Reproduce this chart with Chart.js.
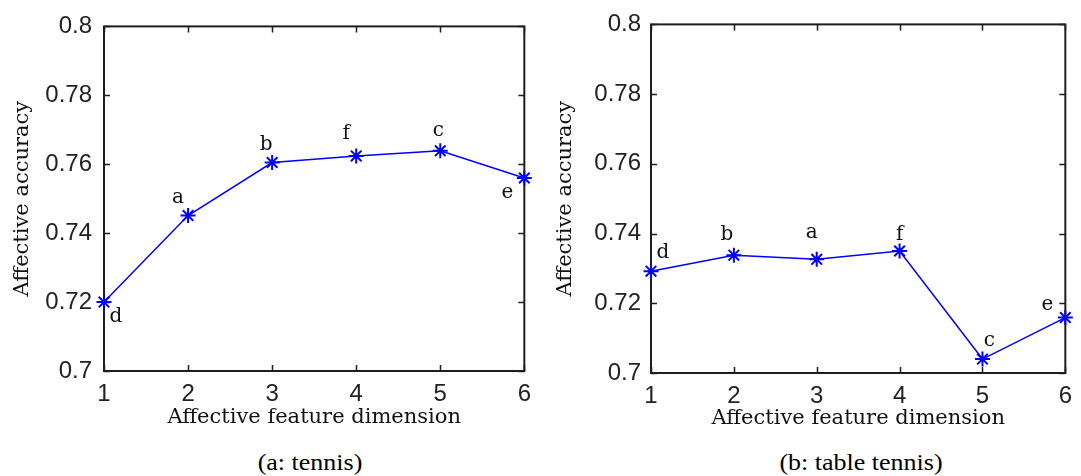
<!DOCTYPE html>
<html>
<head>
<meta charset="utf-8">
<script src="https://cdn.jsdelivr.net/npm/chart.js@4.4.0/dist/chart.umd.min.js"></script>
<style>
  html, body { margin: 0; padding: 0; background: #fff; }
  #wrap { position: relative; width: 1081px; height: 476px; overflow: hidden; background: #fff; }
  .panel { position: absolute; top: 0; }
  .caption {
    position: absolute; top: 449px; line-height: 27px;
    font-family: 'Liberation Serif', 'Times New Roman', serif; font-size: 23px; color: #000;
    transform: translateX(-50%) scaleX(1.13); white-space: nowrap;
  }
</style>
</head>
<body>
<div id="wrap">
  <canvas id="tennis" class="panel" style="left:0px"></canvas>
  <canvas id="tabletennis" class="panel" style="left:540px"></canvas>
  <div class="caption" style="left:310px">(a: tennis)</div>
  <div class="caption" style="left:861px">(b: table tennis)</div>
</div>
<script>
// feature dimension on the x axis
var dims = [1, 2, 3, 4, 5, 6];

// (a) tennis
var tennisAcc = [0.7200, 0.7451, 0.7605, 0.7624, 0.7639, 0.7560];
var tennisTags = ['d', 'a', 'b', 'f', 'c', 'e'];

// (b) table tennis
var tableTennisAcc = [0.7292, 0.7338, 0.7326, 0.7350, 0.7040, 0.7159];
var tableTennisTags = ['d', 'b', 'a', 'f', 'c', 'e'];

var yTickValues = [0.7, 0.72, 0.74, 0.76, 0.78, 0.8];
var xTitle = 'Affective feature dimension';
var yTitle = 'Affective accuracy';

var CANVAS_H = 440;

// box with inward tick marks, matlab style
var framePlugin = {
  id: 'frame',
  beforeDatasetsDraw: function(chart) {
    var a = chart.chartArea, ctx = chart.ctx;
    var xs = chart.scales.x, ys = chart.scales.y;
    var len = 6;
    ctx.save();
    ctx.strokeStyle = '#1e1e1e';
    ctx.lineWidth = 1.5;
    ctx.beginPath();
    xs.ticks.forEach(function(t) {
      var px = Math.round(xs.getPixelForValue(t.value)) + 0.5;
      ctx.moveTo(px, a.bottom); ctx.lineTo(px, a.bottom - len);
      ctx.moveTo(px, a.top); ctx.lineTo(px, a.top + len);
    });
    ys.ticks.forEach(function(t) {
      var py = Math.round(ys.getPixelForValue(t.value)) + 0.5;
      ctx.moveTo(a.left, py); ctx.lineTo(a.left + len, py);
      ctx.moveTo(a.right, py); ctx.lineTo(a.right - len, py);
    });
    ctx.stroke();
    ctx.lineWidth = 2;
    ctx.strokeRect(a.left, a.top, a.right - a.left, a.bottom - a.top);
    ctx.restore();
  }
};

// letter next to each point
var tagPlugin = {
  id: 'tags',
  afterDatasetsDraw: function(chart, args, opts) {
    var pts = chart.getDatasetMeta(0).data;
    var ctx = chart.ctx;
    ctx.save();
    ctx.font = '20px "DejaVu Serif", serif';
    ctx.fillStyle = '#111';
    ctx.textAlign = 'center';
    ctx.textBaseline = 'alphabetic';
    for (var i = 0; i < pts.length; i++) {
      var off = opts.offsets[i];
      ctx.fillText(opts.tags[i], pts[i].x + off[0], pts[i].y + off[1]);
    }
    ctx.restore();
  }
};

function makeChart(id, width, values, tags, g) {
  var canvas = document.getElementById(id);
  canvas.width = width; canvas.height = CANVAS_H;
  canvas.style.width = width + 'px'; canvas.style.height = CANVAS_H + 'px';

  var points = dims.map(function(d, i) { return { x: d, y: values[i] }; });
  var tickFont = { family: '"Liberation Sans", Arial, sans-serif', size: 24 };
  var titleFont = { family: '"DejaVu Serif", serif', size: 21 };

  return new Chart(canvas.getContext('2d'), {
    type: 'line',
    data: {
      datasets: [{
        data: points,
        borderColor: '#0000ff',
        borderWidth: 1.5,
        pointStyle: 'star',
        pointRadius: 7.5,
        pointBorderWidth: 2,
        pointBorderColor: '#0000ff',
        pointBackgroundColor: '#0000ff',
        tension: 0,
        fill: false,
        clip: false
      }]
    },
    options: {
      responsive: false,
      animation: false,
      layout: { padding: { top: g.top, right: g.right, bottom: 0, left: 0 } },
      plugins: {
        legend: { display: false },
        tooltip: { enabled: false },
        tags: { tags: tags, offsets: g.tagOffsets }
      },
      scales: {
        x: {
          type: 'linear',
          min: dims[0], max: dims[dims.length - 1],
          afterBuildTicks: function(s) { s.ticks = dims.map(function(v) { return { value: v }; }); },
          afterFit: function(s) { s.height = CANVAS_H - g.bottom; },
          grid: { display: false, drawTicks: false },
          border: { display: false },
          ticks: { color: '#222', font: tickFont, padding: g.xTickPad, maxRotation: 0 },
          title: { display: true, text: xTitle, color: '#111', font: titleFont,
                   padding: { top: 0, bottom: g.xTitlePad } }
        },
        y: {
          min: yTickValues[0], max: yTickValues[yTickValues.length - 1],
          afterBuildTicks: function(s) { s.ticks = yTickValues.map(function(v) { return { value: v }; }); },
          afterFit: function(s) { s.width = g.left; },
          grid: { display: false, drawTicks: false },
          border: { display: false },
          ticks: {
            color: '#222', font: tickFont, padding: g.yTickPad,
            callback: function(v) { return String(+v.toFixed(2)); }
          },
          title: { display: true, text: yTitle, color: '#111', font: titleFont,
                   padding: { top: g.yTitlePad, bottom: 0 } }
        }
      }
    },
    plugins: [framePlugin, tagPlugin]
  });
}

makeChart('tennis', 540, tennisAcc, tennisTags, {
  left: 104, right: 10, top: 21, bottom: 371,
  xTickPad: 9, yTickPad: 12, xTitlePad: 10, yTitlePad: 10,
  tagOffsets: [[12, 20], [-10, -13], [-6, -13], [-10, -17], [-2, -15], [-17, 20]]
});

makeChart('tabletennis', 541, tableTennisAcc, tableTennisTags, {
  left: 111, right: 8, top: 23, bottom: 373,
  xTickPad: 9, yTickPad: 10, xTitlePad: 9, yTitlePad: 13,
  tagOffsets: [[12, -13], [-7, -15], [-5, -21], [0, -11], [7, -13], [-18, -8]]
});
</script>
</body>
</html>
